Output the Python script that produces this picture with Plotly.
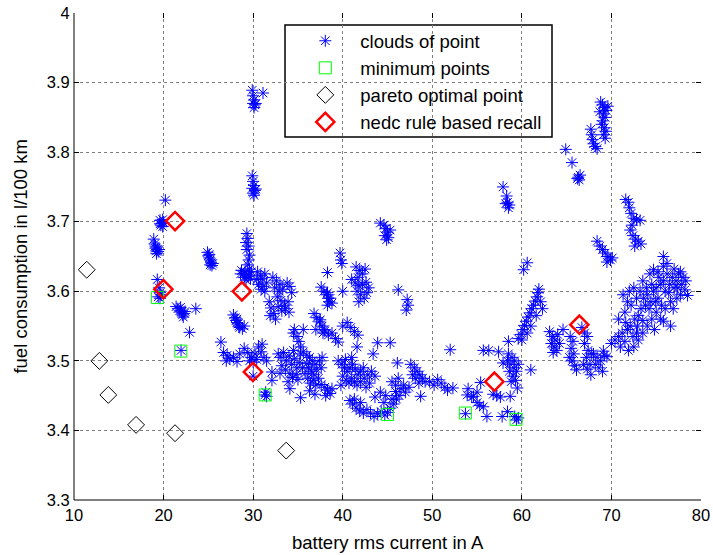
import plotly.graph_objects as go

# ---------------- data ----------------
cloud_xy = [
    # x ~ 19-20
    (18.9,3.675),(19.0,3.668),(19.1,3.662),(19.2,3.658),(19.3,3.660),(19.4,3.657),(19.2,3.654),(19.5,3.660),(19.1,3.665),
    (20.2,3.731),
    (19.6,3.702),(19.8,3.698),(19.9,3.703),(19.7,3.695),(19.9,3.693),(19.6,3.697),(20.0,3.699),
    (19.3,3.617),(19.5,3.605),(19.6,3.598),(19.4,3.592),(19.6,3.590),(19.7,3.595),
    # x ~ 21-24
    (21.4,3.578),(21.6,3.575),(21.8,3.572),(22.0,3.570),(22.1,3.566),(22.3,3.568),(22.4,3.571),(21.9,3.577),(22.2,3.563),
    (23.6,3.575),(22.9,3.541),(21.95,3.515),
    # x ~ 25
    (24.9,3.656),(25.0,3.651),(25.1,3.648),(25.2,3.645),(25.3,3.641),(25.4,3.637),(25.2,3.638),(25.1,3.653),(25.5,3.640),
    # x ~ 28
    (27.8,3.566),(28.0,3.562),(28.1,3.558),(28.2,3.555),(28.3,3.553),(28.4,3.550),(28.5,3.548),(28.2,3.560),(28.8,3.546),(29.0,3.550),
    (26.4,3.527),
    # x ~ 30 top
    (29.9,3.889),(30.0,3.881),(30.1,3.875),(30.0,3.870),(30.2,3.868),(30.1,3.864),(30.3,3.870),(31.1,3.885),
    (29.9,3.766),(30.0,3.758),(30.1,3.752),(29.9,3.748),(30.2,3.745),(30.0,3.741),(30.1,3.738),(30.3,3.747),
    # column x ~ 29
    (29.3,3.683),(29.4,3.676),(29.2,3.670),(29.5,3.665),(29.3,3.660),(29.6,3.652),(29.5,3.645),(29.4,3.638),(29.6,3.632),
    (29.1,3.628),(29.3,3.624),(29.0,3.620),(29.5,3.622),(29.8,3.628),(29.2,3.616),(29.7,3.618),(28.9,3.625),(28.7,3.630),(28.6,3.625),
    # x ~ 30.5-31.5, y ~ 3.61
    (30.5,3.628),(30.8,3.622),(31.0,3.618),(31.3,3.625),(30.6,3.610),(31.1,3.607),(31.5,3.612),(30.9,3.603),(31.3,3.600),(30.4,3.617),
    # x ~ 32-34, y ~ 3.56-3.62
    (32.2,3.620),(32.6,3.615),(33.0,3.610),(32.4,3.605),(32.9,3.600),(33.3,3.603),(32.7,3.592),(33.1,3.587),(33.5,3.580),
    (32.8,3.578),(33.2,3.572),(33.6,3.575),(34.0,3.570),(33.9,3.585),(34.3,3.598),(33.8,3.612),
    (31.8,3.585),(32.0,3.576),(32.3,3.568),(32.5,3.560),(31.9,3.565),
    (34.5,3.540),(35.6,3.545),(37.8,3.540),(37.5,3.559),(40.0,3.550),(34.1,3.607),
    # x ~ 27-31, y ~ 3.50
    (26.7,3.512),(27.1,3.508),(27.4,3.503),(27.8,3.505),(28.2,3.499),(27.0,3.500),(28.5,3.510),
    (29.0,3.518),(29.4,3.512),(29.8,3.505),(30.2,3.510),(30.6,3.520),(30.9,3.513),(31.2,3.505),(31.5,3.500),(30.0,3.498),
    (29.6,3.500),(30.4,3.502),(31.0,3.524),
    (30.0,3.478),(32.1,3.484),(32.1,3.472),(31.3,3.451),(31.5,3.449),(31.4,3.455),
    # x ~ 33-35, y ~ 3.49
    (32.8,3.510),(33.1,3.505),(33.4,3.512),(33.7,3.500),(34.0,3.507),(34.3,3.495),(34.6,3.503),(34.9,3.490),(35.2,3.498),
    (33.2,3.493),(33.6,3.487),(34.1,3.482),(34.4,3.476),(34.8,3.480),(35.0,3.473),(33.9,3.470),(33.0,3.482),(35.3,3.510),(34.5,3.515),
    (34.1,3.460),(35.3,3.447),
    # x ~ 35.5-37.8, y ~ 3.48
    (35.6,3.513),(36.0,3.508),(36.3,3.505),(36.6,3.500),(36.9,3.495),(36.2,3.490),(36.5,3.485),(36.8,3.480),(37.1,3.488),
    (37.4,3.500),(36.0,3.496),(35.8,3.482),(36.1,3.475),(36.4,3.468),(36.7,3.472),(37.0,3.465),(37.3,3.475),(37.6,3.490),
    (35.5,3.490),(36.3,3.457),(36.9,3.452),(37.7,3.505),
    (37.6,3.466),(38.0,3.462),(38.3,3.458),(38.6,3.453),(38.1,3.450),(38.8,3.460),
    (38.0,3.543),(38.4,3.537),(38.8,3.540),(39.2,3.532),(39.5,3.527),
    # x ~ 39.5-44, y ~ 3.48
    (39.5,3.500),(39.9,3.495),(40.2,3.490),(40.5,3.485),(40.8,3.490),(41.1,3.495),(41.4,3.488),(41.7,3.480),(42.0,3.485),
    (42.3,3.490),(40.0,3.478),(40.4,3.472),(40.7,3.468),(41.0,3.475),(41.3,3.470),(41.6,3.465),(42.0,3.470),(42.4,3.475),
    (42.8,3.480),(43.2,3.485),(43.6,3.478),(40.3,3.502),(41.0,3.505),(39.8,3.465),(42.6,3.462),(43.0,3.468),
    (41.6,3.520),(43.9,3.526),(45.3,3.526),(43.4,3.510),(46.1,3.497),
    # U shape bottom, x ~ 41-47.5
    (40.8,3.443),(41.1,3.438),(41.5,3.432),(41.9,3.428),(42.3,3.425),(42.7,3.430),(43.1,3.425),(43.5,3.420),(43.9,3.424),
    (44.3,3.427),(44.7,3.422),(45.0,3.426),(45.3,3.432),(45.7,3.438),(46.0,3.445),(46.3,3.450),(45.5,3.445),(44.8,3.450),
    (44.2,3.455),(43.6,3.448),(44.6,3.440),(45.9,3.456),(42.0,3.440),(41.3,3.445),
    (46.5,3.460),(47.0,3.455),(46.8,3.465),(47.4,3.462),(45.5,3.470),(45.9,3.465),(46.2,3.475),
    # x ~ 47.5-52
    (47.6,3.495),(48.0,3.490),(48.3,3.485),(48.6,3.480),(48.9,3.475),(48.1,3.475),(48.5,3.468),(49.2,3.470),(47.8,3.480),(48.7,3.449),
    (49.7,3.470),(50.2,3.465),
    (50.6,3.473),(51.0,3.468),(51.4,3.462),(51.7,3.458),(52.0,3.516),
    # x ~ 52-60, low
    (52.3,3.461),(53.9,3.451),(54.6,3.449),(55.0,3.440),(55.3,3.436),(55.7,3.434),(55.4,3.469),(54.0,3.460),(54.4,3.448),(55.0,3.455),
    (53.7,3.424),(56.1,3.420),(57.8,3.420),(58.4,3.427),(59.4,3.415),(59.6,3.418),(59.2,3.420),
    (56.8,3.452),(57.2,3.450),(57.6,3.448),(58.7,3.449),(59.5,3.461),
    (58.5,3.510),(58.9,3.505),(59.2,3.500),(58.7,3.495),(59.1,3.490),(59.4,3.485),(58.6,3.485),(59.0,3.478),(59.3,3.472),
    (58.8,3.470),(59.6,3.495),(58.4,3.500),
    (61.0,3.487),(57.9,3.497),(55.7,3.515),(56.3,3.515),(57.4,3.513),(58.5,3.528),
    # diagonal x ~ 59.5-63
    (59.6,3.532),(59.9,3.538),(60.1,3.545),(60.3,3.551),(60.5,3.557),(60.7,3.563),(60.9,3.569),(61.1,3.575),(61.3,3.580),
    (61.5,3.586),(61.7,3.592),(61.8,3.598),(61.9,3.603),(62.1,3.585),(62.3,3.575),(61.6,3.565),(60.0,3.530),(60.6,3.540),(61.0,3.550),
    (60.2,3.631),(60.6,3.641),
    # x ~ 63-69.5, y ~ 3.5
    (63.1,3.542),(63.4,3.535),(63.7,3.530),(63.3,3.525),(63.6,3.520),(63.9,3.515),(64.2,3.525),(63.5,3.512),(64.0,3.538),(64.6,3.545),
    (65.4,3.535),(65.7,3.528),(65.5,3.518),(65.8,3.510),(65.6,3.500),(65.9,3.493),(66.1,3.487),(65.3,3.505),
    (66.7,3.548),(67.0,3.540),(67.3,3.535),(67.0,3.525),(67.4,3.515),(67.2,3.505),(67.6,3.495),(67.3,3.488),(67.7,3.480),(66.9,3.495),(67.8,3.510),
    (68.0,3.510),(68.4,3.505),(68.8,3.500),(69.2,3.508),(69.5,3.506),(68.6,3.490),(69.0,3.485),(68.2,3.495),(69.1,3.514),
    # main cloud x ~ 70-78.5
    (70.0,3.525),(70.4,3.530),(70.8,3.535),(71.2,3.540),(71.0,3.520),(71.5,3.528),(71.8,3.545),(72.1,3.550),(71.6,3.555),
    (72.4,3.535),(72.8,3.540),(72.6,3.560),(73.0,3.565),(72.9,3.550),(73.3,3.575),(73.5,3.558),(73.8,3.580),(73.6,3.590),
    (74.0,3.595),(74.2,3.575),(74.4,3.585),(74.7,3.600),(74.5,3.610),(75.0,3.605),(75.2,3.590),(75.5,3.610),(75.3,3.620),
    (75.8,3.615),(76.0,3.600),(76.2,3.625),(76.5,3.610),(76.8,3.620),(77.0,3.605),(77.2,3.615),(77.5,3.625),(77.8,3.610),
    (78.0,3.620),(78.3,3.615),(77.7,3.595),(77.3,3.590),(76.6,3.585),(76.0,3.575),(75.6,3.580),(75.0,3.570),(74.5,3.560),
    (74.0,3.550),(73.5,3.540),(73.0,3.530),(72.5,3.520),(71.9,3.515),(76.6,3.550),(75.5,3.560),(74.8,3.545),(73.2,3.600),
    (72.8,3.590),(73.5,3.615),(74.3,3.625),(71.5,3.570),(72.2,3.580),(70.8,3.560),(72.0,3.600),(72.5,3.605),(71.3,3.595),
    (71.8,3.585),(75.8,3.557),(74.7,3.631),(75.8,3.650),(75.8,3.636),(76.2,3.640),(77.7,3.628),(78.5,3.594),(77.0,3.632),
    (76.4,3.598),(75.2,3.628),(73.9,3.605),(74.9,3.585),(76.9,3.575),(77.4,3.605),(78.2,3.602),
    # upper right
    (71.6,3.732),(71.9,3.728),(72.0,3.720),(72.2,3.712),(72.5,3.705),(72.8,3.703),(73.2,3.702),(72.3,3.695),(72.1,3.688),
    (72.4,3.680),(72.7,3.675),(73.0,3.672),(73.3,3.668),(72.6,3.665),
    (68.4,3.672),(68.7,3.665),(69.0,3.660),(69.3,3.655),(69.6,3.650),(69.9,3.645),(69.5,3.642),(70.1,3.648),
    (68.8,3.872),(69.0,3.868),(69.2,3.864),(69.4,3.860),(69.1,3.855),(69.3,3.850),(69.0,3.845),(68.9,3.840),(69.2,3.835),
    (69.4,3.830),(69.1,3.825),(69.3,3.820),(68.7,3.858),(69.6,3.866),
    (67.7,3.833),(67.8,3.825),(67.9,3.818),(68.2,3.808),(68.4,3.805),(68.0,3.812),
    (64.9,3.804),(65.6,3.785),(66.3,3.764),(66.2,3.762),(66.5,3.767),(66.4,3.760),
    (57.9,3.750),(58.3,3.737),(58.4,3.728),(58.6,3.724),(58.5,3.720),(58.2,3.726),
    # x ~ 38-48, y ~ 3.58-3.70
    (44.2,3.698),(44.6,3.695),(44.8,3.690),(45.0,3.685),(44.7,3.680),(45.1,3.677),(44.9,3.674),(45.3,3.688),
    (39.7,3.655),(39.8,3.645),(39.9,3.640),(38.3,3.627),
    (41.5,3.635),(41.9,3.630),(42.2,3.625),(42.5,3.632),(41.7,3.620),
    (41.0,3.617),(41.4,3.612),(41.8,3.608),(42.2,3.610),(42.6,3.613),(42.9,3.605),(41.6,3.600),(42.0,3.595),(42.4,3.590),
    (41.8,3.585),(42.7,3.598),
    (40.0,3.600),(38.3,3.598),(38.4,3.590),(38.3,3.580),(38.5,3.585),
    (46.2,3.602),(47.2,3.588),(47.3,3.580),(47.1,3.573),
    (36.8,3.568),(37.1,3.562),(37.4,3.556),(37.7,3.550),(38.0,3.545),(37.0,3.545),
    (34.6,3.545),(34.9,3.535),(35.1,3.528),(35.3,3.520),
    (40.5,3.555),(40.9,3.548),(41.3,3.542),(41.7,3.537),
    (37.6,3.606),(37.9,3.600),(38.2,3.595),(38.6,3.590),(38.8,3.583),
]
cloud_x = [p[0] for p in cloud_xy]
cloud_y = [p[1] for p in cloud_xy]

min_x = [19.31, 21.92, 31.34, 45.0, 53.69, 59.35]
min_y = [3.591, 3.514, 3.451, 3.423, 3.425, 3.416]

pareto_x = [11.42, 12.83, 13.83, 16.93, 21.28, 33.69]
pareto_y = [3.631, 3.500, 3.451, 3.408, 3.396, 3.371]

nedc_x = [21.28, 19.98, 28.74, 29.97, 56.93, 66.42]
nedc_y = [3.701, 3.603, 3.600, 3.484, 3.470, 3.552]

x_ticks = [10, 20, 30, 40, 50, 60, 70, 80]
y_ticks = [3.3, 3.4, 3.5, 3.6, 3.7, 3.8, 3.9, 4.0]
y_tick_labels = ["3.3", "3.4", "3.5", "3.6", "3.7", "3.8", "3.9", "4"]

series_names = ["clouds of point", "minimum points", "pareto optimal point", "nedc rule based recall"]

FONT = "Liberation Sans, Arial, sans-serif"

fig = go.Figure()
fig.add_trace(go.Scatter(x=cloud_x, y=cloud_y, mode="markers", name=series_names[0], legendgroup="a",
                         marker=dict(symbol="asterisk-open", size=10, color="#0000ff", line=dict(width=1, color="#0000ff"))))
fig.add_trace(go.Scatter(x=min_x, y=min_y, mode="markers", name=series_names[1], legendgroup="b",
                         marker=dict(symbol="square-open", size=12, color="#00ff00", line=dict(width=1, color="#00ff00"))))
fig.add_trace(go.Scatter(x=pareto_x, y=pareto_y, mode="markers", name=series_names[2], legendgroup="c",
                         marker=dict(symbol="diamond-open", size=13, color="#000000", line=dict(width=1, color="#000000"))))
fig.add_trace(go.Scatter(x=nedc_x, y=nedc_y, mode="markers", name=series_names[3], legendgroup="d",
                         marker=dict(symbol="diamond-open", size=14, color="#ff0000", line=dict(width=2.5, color="#ff0000"))))

axis_common = dict(showgrid=True, gridcolor="#7f7f7f", griddash="dot", gridwidth=1,
                   ticks="inside", ticklen=5, tickcolor="#000000", showline=True,
                   linecolor="rgba(0,0,0,0)", mirror="ticks", zeroline=False,
                   tickfont=dict(family=FONT, size=16.5, color="#000000"))

fig.update_xaxes(range=[10, 80], tickvals=x_ticks, **axis_common)
fig.update_yaxes(range=[3.3, 4.0], tickvals=y_ticks, ticktext=y_tick_labels, **axis_common)

fig.update_layout(
    width=713, height=555,
    margin=dict(l=74, r=12, t=13, b=55, autoexpand=False),
    plot_bgcolor="#ffffff", paper_bgcolor="#ffffff",
    font=dict(family=FONT, size=18.5, color="#000000"),
    showlegend=True,
    legend=dict(x=0.345, y=0.981, xanchor="left", yanchor="top", bgcolor="rgba(0,0,0,0)",
                borderwidth=0, itemwidth=60, tracegroupgap=0,
                font=dict(family=FONT, size=18.5, color="#000000")),
    shapes=[
        dict(type="line", xref="paper", yref="paper", x0=0, x1=0, y0=0, y1=1, line=dict(color="#000000", width=1)),
        dict(type="line", xref="paper", yref="paper", x0=0, x1=1, y0=0, y1=0, line=dict(color="#000000", width=1)),
        dict(type="rect", xref="paper", yref="paper", x0=(285-74)/627, x1=(552-74)/627,
             y0=1-(137-13)/487, y1=1-(25-13)/487, line=dict(color="#000000", width=1.5),
             fillcolor="#ffffff", layer="below"),
    ],
    annotations=[
        dict(text="battery rms current in A", xref="paper", yref="paper", x=0.5, y=-0.088,
             xanchor="center", yanchor="middle", showarrow=False, font=dict(family=FONT, size=18.5)),
        dict(text="fuel consumption in l/100 km", xref="paper", yref="paper", x=-0.086, y=0.5,
             xanchor="center", yanchor="middle", textangle=-90, showarrow=False, font=dict(family=FONT, size=18.5)),
    ],
)

fig.write_html("out.html", config={"displayModeBar": False},
               post_script="document.body.style.margin='0';document.body.style.overflow='hidden';")
